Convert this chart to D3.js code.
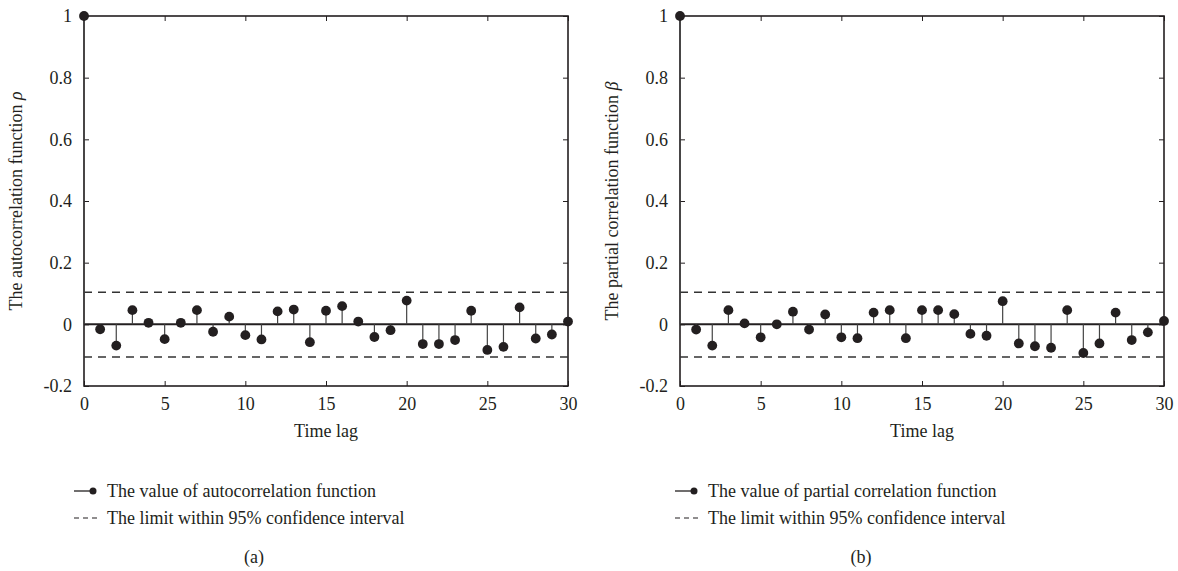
<!DOCTYPE html>
<html>
<head>
<meta charset="utf-8">
<script src="https://cdn.jsdelivr.net/npm/d3@7"></script>
<style>
  body { margin: 0; background: #fff; }
  svg text { font-family: "Liberation Serif", "DejaVu Serif", serif; fill: #231f20; }
</style>
</head>
<body>
<div id="chart"></div>
<script>
// lags 0..30
let lags = d3.range(0, 31);

// autocorrelation values (panel a)
let acfValues = [1, -0.016, -0.069, 0.046, 0.005, -0.048, 0.005, 0.046, -0.024, 0.025, -0.035,
  -0.049, 0.042, 0.048, -0.058, 0.044, 0.059, 0.009, -0.041, -0.019, 0.077,
  -0.064, -0.064, -0.051, 0.044, -0.083, -0.073, 0.055, -0.046, -0.033, 0.009];

// partial correlation values (panel b)
let pacfValues = [1, -0.017, -0.069, 0.046, 0.003, -0.042, 0.0, 0.041, -0.017, 0.032, -0.042,
  -0.045, 0.038, 0.046, -0.045, 0.046, 0.046, 0.033, -0.031, -0.037, 0.075,
  -0.062, -0.071, -0.076, 0.046, -0.093, -0.062, 0.038, -0.051, -0.026, 0.011];

let confLimit = [0.104, -0.106];
let xTicks = [0, 5, 10, 15, 20, 25, 30];
let yTicks = [-0.2, 0, 0.2, 0.4, 0.6, 0.8, 1];
let yTickLabels = ['-0.2', '0', '0.2', '0.4', '0.6', '0.8', '1'];

let panels = [
  { left: 84, legX: 74, tagX: 254, values: acfValues, ylab: 'The autocorrelation function ', sym: 'ρ',
    legend: 'The value of autocorrelation function', tag: '(a)' },
  { left: 680, legX: 675, tagX: 861, values: pacfValues, ylab: 'The partial correlation function ', sym: 'β',
    legend: 'The value of partial correlation function', tag: '(b)' }
];

let width = 1178, height = 571,
    plotW = 484, plotTop = 16, plotBottom = 386,
    ink = '#231f20', fs = 18;

let svg = d3.select('#chart').append('svg')
    .attr('width', width)
    .attr('height', height);

let y = d3.scaleLinear().domain([-0.2, 1]).range([plotBottom, plotTop]);

panels.forEach((p) => {
  let x = d3.scaleLinear().domain([0, 30]).range([p.left, p.left + plotW]);
  let g = svg.append('g');

  // frame
  g.append('rect')
    .attr('x', x(0)).attr('y', y(1))
    .attr('width', x(30) - x(0)).attr('height', y(-0.2) - y(1))
    .attr('fill', 'none').attr('stroke', ink).attr('stroke-width', 1.6);

  // axes with inward ticks
  let bAx = g.append('g').attr('transform', 'translate(0,' + plotBottom + ')')
    .call(d3.axisBottom(x).tickValues(xTicks).tickSizeInner(-5).tickSizeOuter(0).tickPadding(11).tickFormat(d3.format('d')));
  let tAx = g.append('g').attr('transform', 'translate(0,' + plotTop + ')')
    .call(d3.axisTop(x).tickValues(xTicks).tickSizeInner(-5).tickSizeOuter(0).tickFormat(''));
  let lAx = g.append('g').attr('transform', 'translate(' + x(0) + ',0)')
    .call(d3.axisLeft(y).tickValues(yTicks).tickSizeInner(-5).tickSizeOuter(0).tickPadding(12)
      .tickFormat((d, i) => yTickLabels[i]));
  let rAx = g.append('g').attr('transform', 'translate(' + x(30) + ',0)')
    .call(d3.axisRight(y).tickValues(yTicks).tickSizeInner(-5).tickSizeOuter(0).tickFormat(''));

  [bAx, tAx, lAx, rAx].forEach((a) => {
    a.attr('font-family', null);
    a.select('.domain').remove();
    a.selectAll('line').attr('stroke', ink).attr('stroke-width', 1);
    a.selectAll('text').attr('font-size', fs).attr('fill', ink);
  });

  // confidence limits
  g.selectAll('line.conf')
    .data(confLimit)
    .enter().append('line')
      .attr('class', 'conf')
      .attr('x1', x(0)).attr('x2', x(30))
      .attr('y1', (d) => y(d)).attr('y2', (d) => y(d))
      .attr('stroke', '#333').attr('stroke-width', 1.3)
      .attr('stroke-dasharray', '8,6');

  // zero line
  g.append('line')
    .attr('x1', x(0)).attr('x2', x(30))
    .attr('y1', y(0)).attr('y2', y(0))
    .attr('stroke', ink).attr('stroke-width', 2);

  // stems
  g.selectAll('line.stem')
    .data(p.values)
    .enter().append('line')
      .attr('class', 'stem')
      .attr('x1', (d, i) => x(lags[i])).attr('x2', (d, i) => x(lags[i]))
      .attr('y1', y(0)).attr('y2', (d) => y(d))
      .attr('stroke', '#444').attr('stroke-width', 1.2);

  // markers
  g.selectAll('circle')
    .data(p.values)
    .enter().append('circle')
      .attr('cx', (d, i) => x(lags[i]))
      .attr('cy', (d) => y(d))
      .attr('r', 4.9)
      .attr('fill', ink);

  // axis titles
  g.append('text')
    .attr('x', (x(0) + x(30)) / 2).attr('y', 437)
    .attr('text-anchor', 'middle').attr('font-size', fs)
    .text('Time lag');

  let yl = g.append('text')
    .attr('transform', 'translate(' + (p.left - 62) + ',' + y(0.4) + ') rotate(-90)')
    .attr('text-anchor', 'middle').attr('font-size', fs);
  yl.append('tspan').text(p.ylab);
  yl.append('tspan').attr('font-style', 'italic').text(p.sym);

  // legend
  let lx = p.legX;
  g.append('line')
    .attr('x1', lx).attr('x2', lx + 20).attr('y1', 491).attr('y2', 491)
    .attr('stroke', ink).attr('stroke-width', 1.3);
  g.append('circle').attr('cx', lx + 19).attr('cy', 491).attr('r', 3.5).attr('fill', ink);
  g.append('text').attr('x', lx + 33).attr('y', 497).attr('font-size', fs).text(p.legend);

  g.append('line')
    .attr('x1', lx).attr('x2', lx + 26).attr('y1', 518).attr('y2', 518)
    .attr('stroke', ink).attr('stroke-width', 1.2).attr('stroke-dasharray', '5,4');
  g.append('text').attr('x', lx + 33).attr('y', 524).attr('font-size', fs)
    .text('The limit within 95% confidence interval');

  g.append('text')
    .attr('x', p.tagX).attr('y', 563)
    .attr('text-anchor', 'middle').attr('font-size', fs)
    .text(p.tag);
});
</script>
</body>
</html>
